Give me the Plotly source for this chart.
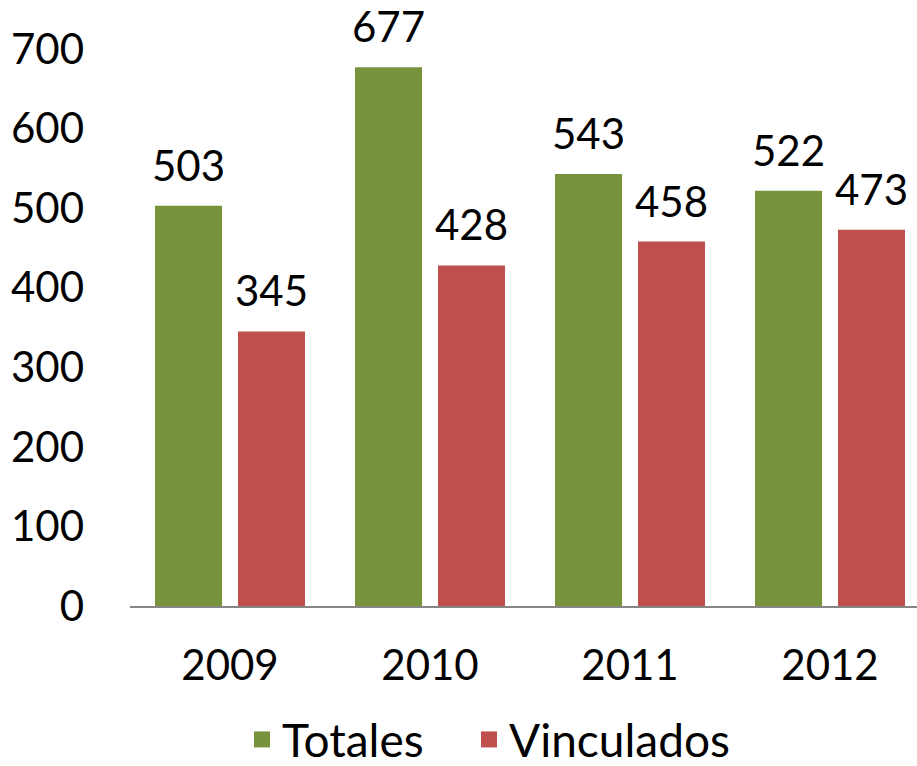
import plotly.graph_objects as go

years = ["2009", "2010", "2011", "2012"]
totales = [503, 677, 543, 522]
vinculados = [345, 428, 458, 473]
y_ticks = [0, 100, 200, 300, 400, 500, 600, 700]

FONT = "Lato, 'Open Sans', sans-serif"
GREEN = "#77933C"
RED = "#C0504D"
BAR_W = 0.335
OFF_G = -0.375
OFF_R = 0.04

fig = go.Figure()
fig.add_trace(go.Bar(
    x=years, y=totales, name="Totales", showlegend=False,
    marker=dict(color=GREEN, line=dict(width=0)),
    width=BAR_W, offset=OFF_G,
))
fig.add_trace(go.Bar(
    x=years, y=vinculados, name="Vinculados", showlegend=False,
    marker=dict(color=RED, line=dict(width=0)),
    width=BAR_W, offset=OFF_R,
))
# legend entries with larger square swatches (one legend box per entry)
fig.add_trace(go.Scatter(x=[None], y=[None], mode="markers", name="Totales",
                         legend="legend",
                         marker=dict(symbol="square", size=34, color=GREEN)))
fig.add_trace(go.Scatter(x=[None], y=[None], mode="markers", name="Vinculados",
                         legend="legend2",
                         marker=dict(symbol="square", size=34, color=RED)))

# value labels above bars
for vals, off in ((totales, OFF_G), (vinculados, OFF_R)):
    for i, v in enumerate(vals):
        fig.add_annotation(x=i + off + BAR_W / 2, y=v, xref="x", yref="y",
                           text=str(v), showarrow=False,
                           yanchor="bottom", yshift=14,
                           font=dict(size=42, color="black", family=FONT))

LEG_Y = -0.3052
fig.update_layout(
    width=917, height=766,
    margin=dict(l=130, r=0, t=49, b=160, autoexpand=False),
    barmode="overlay",
    plot_bgcolor="white", paper_bgcolor="white",
    font=dict(family=FONT, size=42, color="black"),
    showlegend=True,
    legend=dict(orientation="h", x=(242 - 130) / 787, xanchor="left",
                y=LEG_Y, yanchor="bottom", bgcolor="rgba(0,0,0,0)",
                font=dict(size=46), itemwidth=30),
    legend2=dict(orientation="h", x=(469 - 130) / 787, xanchor="left",
                 y=LEG_Y, yanchor="bottom", bgcolor="rgba(0,0,0,0)",
                 font=dict(size=46), itemwidth=30),
)
fig.update_xaxes(
    type="category", range=[-0.5, 3.435], automargin=False,
    showline=True, linecolor="#868686", linewidth=2,
    showgrid=False, ticks="", ticklabelstandoff=22,
    tickfont=dict(size=42),
)
fig.update_yaxes(
    range=[0, 700], tickvals=y_ticks, automargin=False,
    showline=False, showgrid=False, zeroline=False,
    ticks="", ticklabelstandoff=45,
    tickfont=dict(size=42),
)

fig.write_html("out.html", config={"displayModeBar": False},
               post_script="document.body.style.margin='0';")
